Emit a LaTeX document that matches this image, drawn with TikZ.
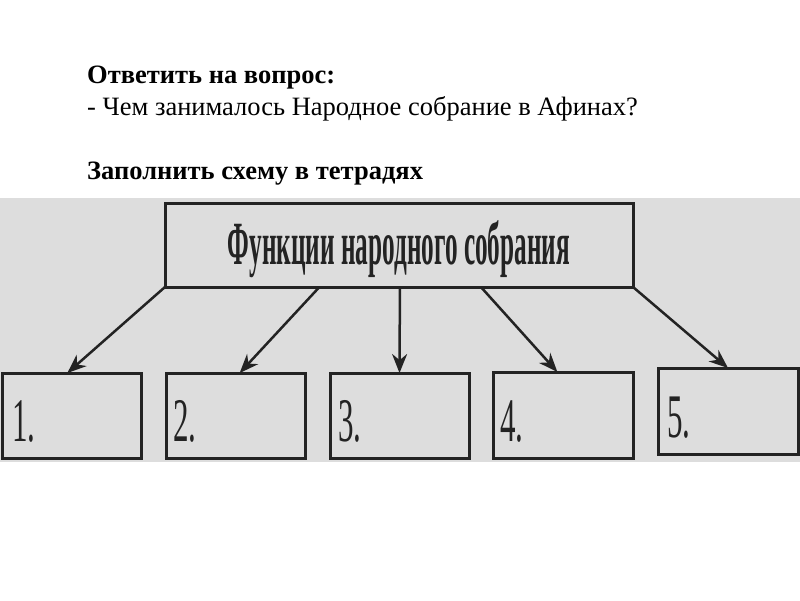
\documentclass[tikz,border=0pt]{standalone}
\usepackage{fontspec}
\setmainfont{Liberation Serif}
\usetikzlibrary{arrows.meta,calc}
\definecolor{scan}{RGB}{221,221,221}
\definecolor{ink}{RGB}{35,35,35}
\begin{document}
\begin{tikzpicture}[x=1pt,y=-1pt,
  box/.style={draw=ink,line width=3pt,inner sep=0pt,outer sep=0pt,anchor=north west},
  arr/.style={draw=ink,line width=2.5pt,-{Stealth[length=19pt,width=15pt]}},
  numlab/.style={anchor=base west,inner sep=0pt,text=ink},
  qtext/.style={anchor=base west,inner sep=0pt,text=black}]
\useasboundingbox (0,0) rectangle (800,600);
\fill[white] (0,0) rectangle (800,600);
\fill[scan] (0,198) rectangle (800,462);
% heading texts
\node[qtext,font=\fontsize{26.5}{30}\selectfont\bfseries] (q1) at (87,83) {Ответить на вопрос:};
\node[qtext,font=\fontsize{26.5}{30}\selectfont] (q2) at (87,115) {- Чем занималось Народное собрание в Афинах?};
\node[qtext,font=\fontsize{26.5}{30}\selectfont\bfseries] (q3) at (87,179) {Заполнить схему в тетрадях};
% top box
\node[box,minimum width=468pt,minimum height=84pt] (top) at (165,203) {};
\node[anchor=base,inner sep=0pt,text=ink] (tt) at (399,264) {\resizebox{342pt}{44pt}{\bfseries Функции народного собрания}};
% bottom boxes
\node[box,minimum width=139pt,minimum height=85pt] (b1) at (2,373) {};
\node[box,minimum width=139pt,minimum height=85pt] (b2) at (166,373) {};
\node[box,minimum width=139pt,minimum height=85pt] (b3) at (330,373) {};
\node[box,minimum width=140pt,minimum height=86pt] (b4) at (493,372) {};
\node[box,minimum width=140pt,minimum height=86pt] (b5) at (658,368) {};
% labels
\node[numlab] (n1) at (12,441) {\scalebox{0.5}[1]{\fontsize{62}{62}\selectfont 1.}};
\node[numlab] (n2) at (173,441) {\scalebox{0.5}[1]{\fontsize{62}{62}\selectfont 2.}};
\node[numlab] (n3) at (338,441) {\scalebox{0.5}[1]{\fontsize{62}{62}\selectfont 3.}};
\node[numlab] (n4) at (500,441) {\scalebox{0.5}[1]{\fontsize{62}{62}\selectfont 4.}};
\node[numlab] (n5) at (667,437) {\scalebox{0.5}[1]{\fontsize{62}{62}\selectfont 5.}};
% arrows
\draw[arr] (top.south west) -- ($(b1.north west)!0.47!(b1.north east)$);
\draw[arr] ($(top.south west)!0.33!(top.south east)$) -- ($(b2.north west)!0.53!(b2.north east)$);
\draw[arr] ($(top.south west)!0.502!(top.south east)$) -- ($(b3.north west)!0.5!(b3.north east)$);
\draw[arr] ($(top.south west)!0.675!(top.south east)$) -- ($(b4.north west)!0.46!(b4.north east)$);
\draw[arr] (top.south east) -- ($(b5.north west)!0.5!(b5.north east)$);
\end{tikzpicture}
\end{document}
